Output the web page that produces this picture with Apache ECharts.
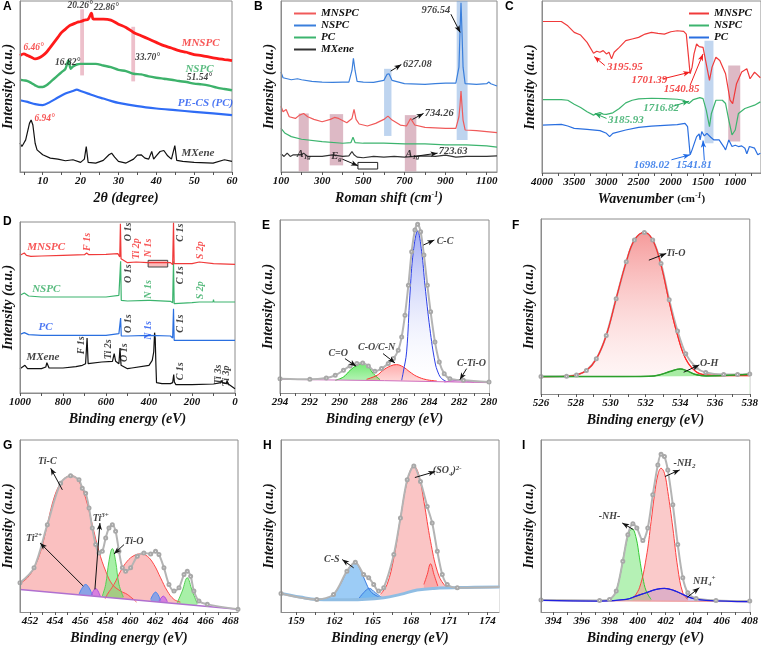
<!DOCTYPE html>
<html>
<head>
<meta charset="UTF-8">
<title>MXene / MNSPC characterization</title>
<script src="https://cdn.jsdelivr.net/npm/echarts@6/dist/echarts.min.js"></script>
<style>
  html, body { margin: 0; padding: 0; background: #fff; }
  #chart { width: 761px; height: 647px; }
</style>
</head>
<body>
<div id="chart"></div>
<script>
// ---------- A: XRD ----------
var aTicks = [5, 10, 15, 20, 25, 30, 35, 40, 45, 50, 55, 60];
var aLabels = [10, 20, 30, 40, 50, 60];
var xrdMNSPC = [[4,352],[5,357],[6,352],[7,347],[8,342],[9,345],[10,352],[11,362],[12,377],[13,392],[14,407],[15,422],[16,432],[17,442],[18,447],[19,452],[20,455],[21,459],[22,462],[22.86,480],[23.3,463],[24,462],[26,462],[28,459],[30,447],[32,437],[34,422],[36,412],[38,402],[40,392],[42,382],[44,375],[46,367],[48,362],[50,355],[52,352],[55,345],[58,340],[60,337]];
var xrdNSPC = [[4,279],[5,277],[6,275],[7,269],[8,262],[9,257],[10,257],[11,262],[12,272],[13,282],[14,292],[15,302],[16,312],[16.8,337],[17.4,312],[18,319],[19,325],[20,327],[22,327],[24,327],[26,322],[28,317],[30,309],[32,305],[34,297],[36,295],[38,289],[40,285],[42,282],[44,279],[46,275],[48,272],[50,267],[52,265],[54,261],[56,255],[58,251],[60,247]];
var xrdPC = [[4,217],[6,212],[8,205],[10,202],[12,212],[14,225],[16,237],[18,245],[19,249],[20,245],[22,237],[24,229],[26,222],[28,215],[30,209],[35,199],[40,192],[45,187],[50,182],[55,177],[60,172]];
var xrdMX = [[4,87],[4.5,77],[5,87],[5.5,97],[6,122],[6.5,147],[6.94,157],[7.4,142],[8,87],[8.5,67],[9,62],[10,52],[12,42],[14,39],[16,34],[18,37],[20,29],[21,39],[21.5,77],[22,29],[24,27],[26,35],[27.5,52],[28.2,57],[29,45],[30,32],[32,27],[34,39],[35,51],[36,52],[37,42],[38,39],[38.8,62],[39.3,39],[40,49],[41,62],[42,65],[43,49],[44,39],[44.9,80],[45.4,35],[47,32],[50,29],[55,27],[58,37],[60,32]];
var aBands = [[19.9,492,20.9,292],[33.4,439,34.4,274]];
var aPeakBlack = [[19.9,502,'20.26°'],[26.8,497,'22.86°'],[16.6,332,'16.82°'],[37.7,347,'33.70°'],[51.4,285,'51.54°']];
var aPeakRed = [[7.6,377,'6.46°'],[10.5,162,'6.94°']];
var aNameRed = [[51.7,389,'MNSPC']];
var aNameGreen = [[51.4,312,'NSPC']];
var aNameBlue = [[53,207,'PE-CS (PC)']];
var aNameBlack = [[51,57,'MXene']];

// ---------- B: Raman ----------
var bTicks = [100, 200, 300, 400, 500, 600, 700, 800, 900, 1000, 1100];
var bLabels = [100, 300, 500, 700, 900, 1100];
var ramMNSPC = [[100,199],[110,182],[125,189],[140,167],[170,162],[190,172],[210,177],[230,167],[260,159],[300,152],[340,159],[360,165],[380,162],[420,149],[445,162],[455,189],[465,159],[480,145],[520,139],[560,147],[600,159],[620,169],[640,157],[680,142],[710,139],[730,162],[750,142],[800,135],[900,132],[950,132],[965,167],[970,200],[975,245],[980,200],[985,157],[995,127],[1050,125],[1100,122],[1150,119]];
var ramNSPC = [[100,302],[110,285],[150,279],[180,282],[200,279],[250,274],[300,272],[350,271],[400,272],[430,272],[445,307],[452,344],[460,307],[470,274],[500,272],[550,271],[600,277],[615,295],[625,297],[640,277],[700,267],[800,265],[850,267],[900,269],[950,269],[965,317],[970,420],[975,512],[980,420],[985,317],[995,267],[1050,265],[1100,267],[1110,272],[1120,267],[1150,260]];
var ramPC = [[100,132],[120,117],[150,107],[200,99],[300,92],[400,87],[440,89],[450,105],[460,89],[500,87],[600,87],[700,85],[800,85],[900,82],[1000,82],[1100,79],[1150,75]];
var ramMX = [[100,55],[115,47],[130,57],[145,47],[160,52],[200,52],[210,57],[230,47],[300,47],[350,52],[400,47],[430,49],[445,62],[455,52],[470,45],[500,43],[550,47],[600,45],[650,47],[700,45],[750,47],[800,49],[850,47],[900,51],[950,45],[1000,47],[1050,47],[1100,47],[1150,49]];
var bPinkBands = [[186,177,235,2],[337,175,402,20],[702,172,758,2]];
var bBlueBands = [[601,312,637,109],[954,517,1007,97]];
var bInset = [[474,29,570,9]];
var bNotes = [[853,489,'976.54'],[763,327,'627.08'],[869,179,'734.26'],[937,62,'723.63'],[211,55,'A{sub|1g}'],[739,55,'A{sub|1g}'],[370,49,'E{sub|g}']];
var bArrows = [[926,477,971,422],[633,305,685,325],[739,159,793,177],[747,47,861,57],[398,39,474,19]];

// ---------- C: FTIR ----------
var cTicks = [4000, 3750, 3500, 3250, 3000, 2750, 2500, 2250, 2000, 1750, 1500, 1250, 1000, 750];
var cLabels = [4000, 3500, 3000, 2500, 2000, 1500, 1000];
var irMNSPC = [[4000,458],[3700,458],[3600,445],[3500,425],[3400,417],[3300,395],[3200,362],[3150,368],[3100,365],[3050,370],[3000,360],[2960,365],[2920,345],[2880,365],[2800,380],[2700,400],[2600,405],[2500,410],[2400,420],[2300,425],[2200,422],[2100,420],[2000,427],[1900,430],[1800,428],[1760,420],[1730,360],[1701,300],[1670,320],[1640,360],[1600,390],[1560,382],[1500,380],[1450,330],[1400,280],[1360,320],[1300,350],[1240,340],[1150,300],[1080,220],[1040,210],[980,270],[900,305],[820,315],[770,285],[700,305],[610,288]];
var irNSPC = [[4000,222],[3700,222],[3600,220],[3500,208],[3400,198],[3300,185],[3200,175],[3150,180],[3100,183],[3050,178],[3000,177],[2900,182],[2800,195],[2700,212],[2600,220],[2500,224],[2300,226],[2100,225],[1900,223],[1800,220],[1720,210],[1650,222],[1550,228],[1500,225],[1450,190],[1400,140],[1370,180],[1300,220],[1200,220],[1150,210],[1100,160],[1050,115],[1000,130],[950,180],[850,195],[700,205],[610,215]];
var irPC = [[4000,145],[3700,147],[3600,142],[3500,135],[3300,132],[3100,128],[3000,120],[2950,110],[2900,120],[2700,130],[2500,138],[2300,142],[2100,144],[1900,146],[1780,150],[1740,140],[1700,55],[1670,70],[1600,110],[1560,118],[1545,100],[1520,125],[1480,112],[1440,120],[1380,108],[1330,100],[1250,100],[1180,80],[1150,70],[1100,100],[1050,80],[1000,84],[950,80],[900,82],[850,75],[820,58],[780,80],[700,75],[650,55],[610,60]];
var cBlueBands = [[1478,400,1338,90]];
var cPinkBands = [[1109,325,922,95]];
var cNotesRed = [[2713,320,'3195.95'],[2334,280,'1701.39'],[1831,252,'1540.85']];
var cArrowsRed = [[3024,325,3190,352],[2116,285,1700,305],[1701,265,1500,360]];
var cNotesGreen = [[2152,195,'1716.82'],[2697,160,'3185.93']];
var cArrowsGreen = [[2998,165,3180,180],[1960,202,1716,217]];
var cNotesBlue = [[2300,25,'1698.02'],[1640,23,'1541.81']];
var cArrowsBlue = [[1990,40,1701,55],[1480,38,1500,98]];

// ---------- D: XPS survey ----------
var dTicks = [1000, 900, 800, 700, 600, 500, 400, 300, 200, 100, 0];
var dLabels = [1000, 800, 600, 400, 200, 0];
var svMNSPC = [[1000,413],[980,420],[970,413],[950,410],[900,411],[800,413],[700,415],[690,420],[680,415],[600,416],[545,418],[536,408],[533,508],[530,403],[500,391],[460,393],[405,391],[400,395],[395,391],[300,391],[290,385],[286,511],[283,388],[280,388],[200,388],[166,393],[162,388],[100,388],[0,386]];
var svNSPC = [[1000,293],[980,300],[960,291],[900,288],[800,288],[700,288],[600,288],[540,293],[536,290],[532,395],[529,278],[500,276],[405,278],[400,281],[395,278],[300,275],[290,271],[286,395],[283,268],[200,271],[166,273],[162,278],[158,273],[102,273],[100,280],[98,273],[0,273]];
var svPC = [[1000,176],[980,181],[960,175],[900,173],[700,173],[600,173],[540,178],[536,175],[532,225],[529,171],[500,171],[400,173],[300,171],[290,165],[286,253],[283,158],[200,158],[100,158],[0,158]];
var svMX = [[1000,73],[977,83],[965,73],[900,73],[880,78],[875,91],[865,75],[800,75],[740,79],[710,83],[695,88],[688,165],[683,88],[620,93],[570,95],[562,118],[555,95],[540,88],[535,135],[530,83],[500,73],[480,75],[400,83],[385,98],[378,123],[374,181],[371,163],[368,88],[365,31],[340,28],[300,28],[290,31],[285,55],[282,33],[275,25],[200,25],[100,27],[65,31],[62,38],[58,31],[40,28],[37,38],[33,28],[0,13]];
var dInset = [[404,398,313,378]];
var dNameRed = [[878,438,'MNSPC']];
var dNameGreen = [[878,313,'NSPC']];
var dNameBlue = [[881,198,'PC']];
var dNameBlack = [[893,108,'MXene']];
var dRotRed = [[687,453,'F 1s'],[458,433,'Ti 2p'],[404,435,'N 1s'],[160,428,'S 2p']];
var dRotGreen = [[404,311,'N 1s'],[163,308,'S 2p']];
var dRotBlue = [[404,188,'N 1s']];
var dRotBlack = [[496,483,'O 1s'],[252,481,'C 1s'],[496,358,'O 1s'],[252,353,'C 1s'],[496,208,'O 1s'],[252,208,'C 1s'],[713,143,'F 1s'],[591,131,'Ti 2s'],[514,121,'O 1s'],[252,65,'C 1s'],[76,55,'Ti 3s'],[38,51,'Ti 3p']];

// ---------- E: C 1s ----------
var eTicks = [294, 293, 292, 291, 290, 289, 288, 287, 286, 285, 284, 283, 282, 281, 280];
var eLabels = [294, 292, 290, 288, 286, 284, 282, 280];
var c1sBase = [[294,41],[287,37],[280,31]];
var c1sFit = [[294,43],[292,41],[290.9,45],[290.3,53],[289.75,68],[289.3,81],[288.85,88],[288.46,90],[288.08,81],[287.64,65],[287.2,73],[286.75,88],[286.4,103],[286.08,128],[285.85,168],[285.63,233],[285.4,323],[285.18,423],[284.96,488],[284.78,505],[284.58,483],[284.36,413],[284.13,323],[283.91,243],[283.62,153],[283.33,93],[283,58],[282.62,43],[281.72,38],[280,33]];
var c1sCC = [[285.85,38],[285.74,63],[285.52,123],[285.3,293],[285.07,423],[284.78,485],[284.51,423],[284.29,323],[283.96,193],[283.62,93],[283.4,60],[283.17,43],[282.9,36]];
var c1sCON = [[288.2,41],[287.5,53],[287.1,68],[286.6,81],[286.2,85],[285.75,78],[285.3,63],[284.85,50],[284.2,40],[283.5,36]];
var c1sCO = [[290.3,38],[289.75,48],[289.3,68],[288.85,83],[288.46,88],[288.08,78],[287.75,58],[287.3,40]];
var c1sCTiO = [[283,33],[282.5,36],[282.06,38],[281.6,36],[281,33]];
var eNotes = [[282.95,455,'C-C'],[290.1,118,'C=O'],[287.53,135,'C-O/C-N'],[281.17,88,'C-Ti-O']];
var eArrows = [[284.4,443,283.66,458],[289.65,103,288.9,80],[287.1,118,286.3,90],[281.5,73,281.95,40]];

// ---------- F: O 1s ----------
var fTicks = [526, 527, 528, 529, 530, 531, 532, 533, 534, 535, 536, 537, 538];
var fLabels = [526, 528, 530, 532, 534, 536, 538];
var o1sFit = [[526,52],[527.47,53],[528.04,57],[528.61,70],[529.18,105],[529.75,175],[530.32,285],[530.9,395],[531.37,460],[531.94,483],[532.42,460],[532.9,390],[533.37,282],[533.85,188],[534.32,120],[534.9,80],[535.47,64],[536.5,58],[537.3,58],[538,60]];
var o1sTiO = [[526,52],[527.47,53],[528.04,57],[528.61,70],[529.18,105],[529.75,175],[530.32,285],[530.9,395],[531.37,460],[531.94,483],[532.42,460],[532.9,385],[533.37,275],[533.85,175],[534.32,105],[534.9,67],[535.47,57],[536.23,55],[538,55]];
var o1sOH = [[526,52],[530,52],[532.2,53],[532.8,57],[533.4,67],[534,75],[534.4,69],[534.9,58],[535.5,54],[536.5,55],[538,59]];
var o1sBase = [[526,51],[530,51],[532,52],[536,54],[538,58]];
var fNotes = [[533.75,420,'Ti-O'],[535.66,90,'O-H']];
var fArrows = [[532.2,400,533.2,420],[534.2,65,535.1,87]];

// ---------- G: Ti 2p ----------
var gTicks = [452, 453, 454, 455, 456, 457, 458, 459, 460, 461, 462, 463, 464, 465, 466, 467, 468];
var gLabels = [452, 454, 456, 458, 460, 462, 464, 466, 468];
var ti2pBase = [[451.2,68],[468.6,8]];
var ti2pFit = [[451.2,88],[452.32,133],[453.38,263],[454.44,388],[455.24,410],[455.91,398],[456.17,373],[456.44,358],[456.71,313],[456.97,253],[457.24,203],[457.5,178],[457.77,183],[458.04,223],[458.3,253],[458.57,263],[458.83,243],[459.1,183],[459.37,133],[459.63,123],[460.03,133],[460.56,168],[461.09,178],[461.63,175],[462.02,183],[462.29,173],[462.69,133],[463.09,83],[463.49,63],[463.89,73],[464.29,113],[464.55,123],[464.82,108],[465.08,63],[465.48,33],[466.15,23],[468.6,8]];
var ti2pTiC1 = [[451.2,86],[451.79,103],[452.32,133],[452.85,183],[453.38,263],[453.91,343],[454.44,388],[454.98,408],[455.38,410],[455.91,393],[456.44,343],[456.97,263],[457.5,183],[458.04,123],[458.57,83],[459.23,63],[459.76,53],[460.5,30]];
var ti2pTiC2 = [[458,40],[458.17,53],[458.7,83],[459.23,123],[459.76,153],[460.3,170],[460.83,175],[461.36,168],[461.89,143],[462.42,103],[462.96,63],[463.49,38],[464,30]];
var ti2pTiO1 = [[457.77,48],[458.04,83],[458.3,153],[458.57,191],[458.83,153],[459.1,83],[459.45,45]];
var ti2pTiO2 = [[463.75,28],[464.15,63],[464.55,103],[464.95,63],[465.35,25]];
var ti2pTi2a = [[455.91,53],[456.17,73],[456.44,83],[456.71,73],[456.97,51]];
var ti2pTi2b = [[461.63,38],[462.02,60],[462.42,35]];
var ti2pTi3a = [[456.9,51],[457.24,71],[457.6,48]];
var ti2pTi3b = [[462.3,33],[462.64,48],[462.96,31]];
var gNotes = [[453.38,453,'Ti-C'],[452.32,223,'Ti{sup|2+}'],[457.64,283,'Ti{sup|3+}'],[460.3,213,'Ti-O']];
var gArrows = [[454.58,368,453.65,433],[456.25,78,452.8,208],[457.18,68,457.58,268],[459.5,203,458.7,175]];

// ---------- H: S 2p ----------
var hTicks = [159, 160.5, 162, 163.5, 165, 166.5, 168, 169.5, 171, 172.5, 174];
var hLabels = [159, 162, 165, 168, 171, 174];
var s2pBase = [[157.8,56],[159.3,45],[160.61,38],[163.23,37],[165.86,43],[167.17,53],[168.48,66],[169.79,71],[172.42,74],[174.94,75]];
var s2pFit = [[157.8,56],[160.61,38],[161.92,53],[162.97,123],[163.63,150],[164.28,113],[164.68,103],[165.07,83],[165.46,63],[165.86,73],[166.65,173],[167.17,283],[167.7,398],[168.22,440],[168.74,393],[169.27,318],[169.66,268],[170.06,183],[170.45,113],[170.84,83],[171.63,73],[174.94,75]];
var s2pCS = [[161.4,41],[161.92,53],[162.45,83],[162.97,123],[163.36,143],[163.63,148],[164.02,128],[164.41,93],[164.81,63],[165.33,48],[165.86,41]];
var s2pCS2 = [[163.9,40],[164.28,58],[164.73,71],[165.2,58],[165.73,43]];
var s2pSO4 = [[165.6,53],[166.12,83],[166.65,163],[167.17,283],[167.7,393],[168.22,440],[168.61,413],[169.01,333],[169.53,213],[170.06,123],[170.58,83],[171.11,73],[172.16,71]];
var s2pSO4b = [[169.01,83],[169.27,113],[169.53,145],[169.8,113],[170.1,78]];
var hNotes = [[161.79,158,'C-S'],[170.84,425,'(SO{sub|4}){sup|2-}']];
var hArrows = [[163.5,133,162.6,158],[168.3,405,169.9,423]];

// ---------- I: N 1s ----------
var iTicks = [394, 395, 396, 397, 398, 399, 400, 401, 402, 403, 404, 405, 406, 407, 408];
var iLabels = [394, 396, 398, 400, 402, 404, 406, 408];
var n1sBase = [[393.1,35],[408,31]];
var n1sFit = [[393.1,36],[397.28,35],[397.99,38],[398.47,63],[398.94,153],[399.3,233],[399.66,266],[399.94,253],[400.37,215],[400.72,253],[401.08,353],[401.44,443],[401.67,475],[401.91,468],[402.15,428],[402.51,323],[402.86,203],[403.22,103],[403.58,58],[404.17,41],[405.59,35],[408,33]];
var n1sNH = [[397.99,36],[398.35,53],[398.71,103],[399.06,183],[399.42,243],[399.61,250],[399.89,223],[400.13,163],[400.37,103],[400.61,63],[400.96,38]];
var n1sNH2 = [[399.66,41],[400.13,73],[400.61,163],[400.96,273],[401.2,353],[401.44,413],[401.67,433],[401.91,418],[402.15,363],[402.51,253],[402.86,133],[403.22,58],[403.58,38]];
var n1sNH4 = [[393.1,35],[397.28,33],[399.18,38],[399.89,48],[400.61,58],[401.32,68],[401.91,71],[402.51,66],[403.22,53],[403.93,41],[404.88,35],[408,31]];
var iNotes = [[403.34,448,'-NH{sub|2}'],[397.99,288,'-NH-'],[404.76,93,'NH{sub|4}{sup|+}']];
var iArrows = [[401.95,408,403.0,428],[399.7,248,398.9,268],[403.5,43,404.4,73]];

// ---------- styling / layout ----------
var SERIF = '"Liberation Serif", "Times New Roman", serif';
var FRAME = '#8c8c8c';
var INK = '#111';
var RICH = {
  sub: { fontSize: 7, verticalAlign: 'bottom', padding: [6, 0, 0, 0] },
  sup: { fontSize: 7, verticalAlign: 'top', padding: [0, 0, 6, 0] }
};

var panels = [
  { tag: 'A', left: 19,  top: 1,   width: 213, height: 171, min: 4,     max: 60,    inverse: false, ticks: aTicks, labels: aLabels, name: '2θ (degree)', ymax: 517 },
  { tag: 'B', left: 281, top: 1,   width: 216, height: 171, min: 100,   max: 1150,  inverse: false, ticks: bTicks, labels: bLabels, name: 'Roman shift (cm{sup|-1})', ymax: 517 },
  { tag: 'C', left: 542, top: 1,   width: 219, height: 172, min: 600,   max: 4000,  inverse: true,  ticks: cTicks, labels: cLabels, name: 'Wavenumber {sm|(cm}{sup|-1}{sm|)}', ymax: 520 },
  { tag: 'D', left: 17,  top: 222, width: 218, height: 171, min: 0,     max: 1000,  inverse: true,  ticks: dTicks, labels: dLabels, name: 'Binding energy (eV)', ymax: 513 },
  { tag: 'E', left: 280, top: 220, width: 209, height: 173, min: 280,   max: 294,   inverse: true,  ticks: eTicks, labels: eLabels, name: 'Binding energy (eV)', ymax: 518 },
  { tag: 'F', left: 541, top: 219, width: 210, height: 175, min: 526,   max: 538,   inverse: false, ticks: fTicks, labels: fLabels, name: 'Binding energy (eV)', ymax: 523 },
  { tag: 'G', left: 19,  top: 440, width: 219, height: 172, min: 451.2, max: 468.6, inverse: false, ticks: gTicks, labels: gLabels, name: 'Binding energy (eV)', ymax: 518 },
  { tag: 'H', left: 281, top: 440, width: 218, height: 172, min: 157.8, max: 174.9, inverse: false, ticks: hTicks, labels: hLabels, name: 'Binding energy (eV)', ymax: 518 },
  { tag: 'I', left: 541, top: 440, width: 210, height: 172, min: 393.1, max: 408,   inverse: false, ticks: iTicks, labels: iLabels, name: 'Binding energy (eV)', ymax: 518 }
];
var tagPos = [[3, 1], [254, 1], [505, 1], [3, 216], [262, 220], [512, 220], [3, 440], [263, 440], [522, 440]];

var boldItalic = { fontFamily: SERIF, fontStyle: 'italic', fontWeight: 'bold', color: INK };

var grids = [], xAxes = [], yAxes = [];
panels.forEach(function (p, i) {
  grids.push({ left: p.left, top: p.top, width: p.width, height: p.height, show: true, borderColor: FRAME, borderWidth: 1 });
  xAxes.push({
    type: 'value', gridIndex: i, min: p.min, max: p.max, inverse: p.inverse, z: 10,
    name: p.name, nameLocation: 'middle', nameGap: 19,
    nameTextStyle: Object.assign({ fontSize: 14, rich: {
      sup: { fontSize: 8, fontStyle: 'italic', fontWeight: 'bold', fontFamily: SERIF, verticalAlign: 'top', padding: [0, 0, 7, 0] },
      sm: { fontSize: 11, fontStyle: 'normal', fontWeight: 'bold', fontFamily: SERIF }
    } }, boldItalic),
    axisLine: { show: true, onZero: false, lineStyle: { color: FRAME } },
    axisTick: { show: true, length: 3, customValues: p.ticks, lineStyle: { color: '#555' } },
    axisLabel: Object.assign({ customValues: p.labels, margin: 4, fontSize: 11, formatter: function (v) { return String(v); } }, boldItalic),
    splitLine: { show: false }
  });
  yAxes.push({
    type: 'value', gridIndex: i, min: 0, max: p.ymax, z: 10,
    name: 'Intensity (a.u.)', nameLocation: 'middle', nameGap: 5, nameRotate: 90,
    nameTextStyle: Object.assign({ fontSize: 14 }, boldItalic),
    axisLine: { show: true, onZero: false, lineStyle: { color: FRAME } },
    axisTick: { show: false }, axisLabel: { show: false }, splitLine: { show: false }
  });
});

// ---------- series helpers ----------
function curve(gi, name, data, color, width, smooth) {
  return { type: 'line', name: name, xAxisIndex: gi, yAxisIndex: gi, data: data, showSymbol: false, silent: true,
    smooth: smooth || false, lineStyle: { color: color, width: width || 1.2 }, itemStyle: { color: color } };
}
function peak(gi, data, color, fill) {
  var s = curve(gi, '', data, color, 1, 0.4);
  if (fill) s.areaStyle = { color: fill, opacity: 1 };
  return s;
}
function grad(top, bottom) {
  return { type: 'linear', x: 0, y: 0, x2: 0, y2: 1, colorStops: [{ offset: 0, color: top }, { offset: 1, color: bottom }] };
}
// white fill under the background line, so peak fills stop at the baseline
function mask(gi, data, smooth) {
  return { type: 'line', xAxisIndex: gi, yAxisIndex: gi, data: data, showSymbol: false, silent: true, smooth: smooth || false,
    lineStyle: { opacity: 0 }, areaStyle: { color: '#fff', opacity: 1 } };
}
function envelope(gi, data) {
  return { type: 'line', xAxisIndex: gi, yAxisIndex: gi, data: data, silent: true, smooth: 0.3,
    symbol: 'emptyCircle', symbolSize: 3, showSymbol: true, showAllSymbol: true,
    itemStyle: { color: '#a8a8a8', borderWidth: 0.8 }, lineStyle: { color: '#b4b4b4', width: 2 } };
}
function notes(gi, items, color, size, rotate, extra) {
  var s = {
    type: 'scatter', xAxisIndex: gi, yAxisIndex: gi, symbolSize: 1, silent: true, z: 6,
    itemStyle: { color: 'rgba(0,0,0,0)' },
    data: items.map(function (t) { return { value: [t[0], t[1]], name: t[2] }; }),
    label: Object.assign({ show: true, position: 'inside', rotate: rotate || 0, fontSize: size || 10, rich: RICH,
      formatter: function (p) { return p.name; } }, boldItalic, { color: color })
  };
  return Object.assign(s, extra || {});
}
function arrows(list, color) {
  return { silent: true, symbol: ['none', 'arrow'], symbolSize: [4, 7], label: { show: false }, animation: false,
    lineStyle: { color: color, width: 1, type: 'solid' },
    data: list.map(function (a) { return [{ coord: [a[0], a[1]] }, { coord: [a[2], a[3]] }]; }) };
}
function bands(list, fill, border) {
  return { silent: true, label: { show: false },
    itemStyle: { color: fill, borderColor: border || 'transparent', borderWidth: border ? 1 : 0 },
    data: list.map(function (b) { return [{ coord: [b[0], b[1]] }, { coord: [b[2], b[3]] }]; }) };
}

var RED = '#f52a2a', GREEN = '#2faa5f', BLUE = '#1f55f0';
var series = [
  // A
  curve(0, 'A MXene', xrdMX, '#111', 1.2),
  curve(0, 'A PC', xrdPC, '#2f6cf5', 2.2, 0.3),
  curve(0, 'A NSPC', xrdNSPC, '#3db26b', 2.4, 0.3),
  curve(0, 'A MNSPC', xrdMNSPC, '#ff1a1a', 2.8, 0.3),
  notes(0, aPeakBlack, INK, 9.5, 0, { markArea: bands(aBands, 'rgba(222,140,160,0.55)') }),
  notes(0, aPeakRed, RED, 9.5),
  notes(0, aNameRed, RED, 11),
  notes(0, aNameGreen, GREEN, 11),
  notes(0, aNameBlue, BLUE, 11),
  notes(0, aNameBlack, INK, 11),
  // B
  curve(1, 'B MNSPC', ramMNSPC, '#f05a5a', 1.2),
  curve(1, 'B NSPC', ramNSPC, '#3a7fdc', 1.2),
  curve(1, 'B PC', ramPC, '#3cb46e', 1.2),
  curve(1, 'B MXene', ramMX, '#333', 1.2),
  notes(1, bNotes, INK, 10.5, 0, {
    markArea: bands(bPinkBands, 'rgba(170,80,110,0.4)'),
    markLine: arrows(bArrows, '#111')
  }),
  notes(1, [], INK, 10, 0, { markArea: bands(bBlueBands, 'rgba(110,160,220,0.45)') }),
  notes(1, [], INK, 10, 0, { markArea: bands(bInset, 'rgba(255,255,255,0)', '#222') }),
  // C
  curve(2, 'C MNSPC', irMNSPC, '#f03a3a', 1.2),
  curve(2, 'C NSPC', irNSPC, '#3cb46e', 1.2),
  curve(2, 'C PC', irPC, '#2a6fe0', 1.2),
  notes(2, cNotesRed, '#f01e1e', 11, 0, { markLine: arrows(cArrowsRed, '#f01e1e'), markArea: bands(cPinkBands, 'rgba(170,80,110,0.4)') }),
  notes(2, cNotesGreen, '#2aa860', 11, 0, { markLine: arrows(cArrowsGreen, '#2aa860'), markArea: bands(cBlueBands, 'rgba(120,165,220,0.45)') }),
  notes(2, cNotesBlue, '#1e6ae6', 11, 0, { markLine: arrows(cArrowsBlue, '#1e6ae6') }),
  // D
  curve(3, 'D MXene', svMX, '#111', 1.2),
  curve(3, 'D PC', svPC, '#2a6fe0', 1.2),
  curve(3, 'D NSPC', svNSPC, '#3cb46e', 1.2),
  curve(3, 'D MNSPC', svMNSPC, '#f03a3a', 1.2),
  notes(3, dNameRed, RED, 11, 0, { markArea: bands(dInset, 'rgba(240,60,60,0.35)', '#444') }),
  notes(3, dNameGreen, GREEN, 11),
  notes(3, dNameBlue, BLUE, 11),
  notes(3, dNameBlack, INK, 11),
  notes(3, dRotRed, RED, 10, 90),
  notes(3, dRotGreen, GREEN, 10, 90),
  notes(3, dRotBlue, BLUE, 10, 90),
  notes(3, dRotBlack, INK, 10, 90),
  // E
  peak(4, c1sCO, '#22cc22', grad('rgba(70,225,70,0.75)', 'rgba(70,225,70,0.15)')),
  peak(4, c1sCON, '#ff3333', grad('rgba(255,90,90,0.5)', 'rgba(255,90,90,0.05)')),
  peak(4, c1sCC, '#2b3ee8', grad('rgba(70,90,235,0.5)', 'rgba(255,255,255,0)')),
  peak(4, c1sCTiO, '#c040d0', 'rgba(200,80,210,0.4)'),
  mask(4, c1sBase),
  curve(4, '', c1sBase, '#d070c0', 1),
  envelope(4, c1sFit),
  notes(4, eNotes, INK, 10, 0, { markLine: arrows(eArrows, '#111') }),
  // F
  peak(5, o1sTiO, '#ff2a2a', grad('rgba(240,100,100,0.65)', 'rgba(255,220,220,0.15)')),
  peak(5, o1sOH, '#2ca02c', 'rgba(110,230,110,0.6)'),
  mask(5, o1sBase),
  envelope(5, o1sFit),
  curve(5, '', o1sTiO, '#ff2a2a', 1.2, 0.4),
  curve(5, '', o1sOH, '#2ca02c', 1.5, 0.4),
  notes(5, fNotes, INK, 10, 0, { markLine: arrows(fArrows, '#111') }),
  // G
  peak(6, ti2pTiC1, '#ff4a4a', 'rgba(245,140,140,0.55)'),
  peak(6, ti2pTiC2, '#ff4a4a', 'rgba(245,140,140,0.55)'),
  peak(6, ti2pTiO1, '#55d055', 'rgba(110,230,110,0.6)'),
  peak(6, ti2pTiO2, '#55d055', 'rgba(110,230,110,0.6)'),
  peak(6, ti2pTi2a, '#4a86f0', 'rgba(90,150,245,0.7)'),
  peak(6, ti2pTi2b, '#4a86f0', 'rgba(90,150,245,0.7)'),
  peak(6, ti2pTi3a, '#b050e0', 'rgba(200,100,235,0.7)'),
  peak(6, ti2pTi3b, '#b050e0', 'rgba(200,100,235,0.7)'),
  mask(6, ti2pBase),
  curve(6, '', ti2pBase, '#b070d0', 1.5),
  envelope(6, ti2pFit),
  notes(6, gNotes, INK, 10, 0, { markLine: arrows(gArrows, '#111') }),
  // H
  peak(7, s2pSO4, '#ff4040', 'rgba(245,150,150,0.55)'),
  peak(7, s2pSO4b, '#ff4040', 'rgba(245,150,150,0.55)'),
  peak(7, s2pCS, '#3a7be0', 'rgba(90,170,240,0.6)'),
  peak(7, s2pCS2, '#3a7be0', 'rgba(90,170,240,0.6)'),
  mask(7, s2pBase, 0.4),
  curve(7, '', s2pBase, '#8fbde3', 3, 0.4),
  envelope(7, s2pFit),
  notes(7, hNotes, INK, 10, 0, { markLine: arrows(hArrows, '#111') }),
  // I
  peak(8, n1sNH4, '#2020e0', 'rgba(140,140,240,0.45)'),
  peak(8, n1sNH, '#33cc33', 'rgba(120,230,120,0.55)'),
  peak(8, n1sNH2, '#ff4040', 'rgba(245,150,150,0.5)'),
  mask(8, n1sBase),
  curve(8, '', n1sBase, '#f0a0a0', 1.2),
  envelope(8, n1sFit),
  curve(8, '', n1sNH4, '#2020e0', 1.2, 0.4),
  notes(8, iNotes, INK, 10, 0, { markLine: arrows(iArrows, '#111') })
];

var legendText = Object.assign({ fontSize: 11 }, boldItalic);
var option = {
  animation: false,
  backgroundColor: '#fff',
  grid: grids,
  xAxis: xAxes,
  yAxis: yAxes,
  legend: [
    { left: 289, top: 3, orient: 'vertical', itemGap: 1, itemWidth: 22, itemHeight: 2, icon: 'rect',
      data: ['B MNSPC', 'B NSPC', 'B PC', 'B MXene'], selectedMode: false,
      formatter: function (n) { return n.slice(2); }, textStyle: legendText },
    { left: 684, top: 3, orient: 'vertical', itemGap: 1, itemWidth: 20, itemHeight: 2, icon: 'rect',
      data: ['C MNSPC', 'C NSPC', 'C PC'], selectedMode: false,
      formatter: function (n) { return n.slice(2); }, textStyle: legendText }
  ],
  graphic: panels.map(function (p, i) {
    return { type: 'text', left: tagPos[i][0], top: tagPos[i][1], z: 20,
      style: { text: p.tag, font: 'bold 12px "Liberation Sans", Arial, sans-serif', fill: '#000' } };
  }),
  series: series
};

var chart = echarts.init(document.getElementById('chart'), null, { renderer: 'canvas' });
chart.setOption(option);
</script>
</body>
</html>
